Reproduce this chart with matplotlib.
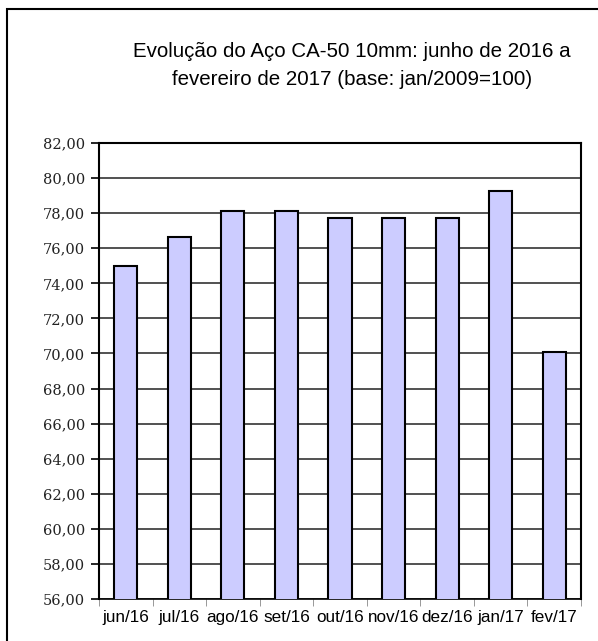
import numpy as np
import matplotlib.pyplot as plt
from matplotlib.patches import Rectangle

meses = ['jun/16', 'jul/16', 'ago/16', 'set/16', 'out/16', 'nov/16', 'dez/16', 'jan/17', 'fev/17']
valores = [75.00, 76.63, 78.12, 78.12, 77.74, 77.74, 77.74, 79.29, 70.08]
titulo = 'Evolução do Aço CA-50 10mm: junho de 2016 a\nfevereiro de 2017 (base: jan/2009=100)'

W, H = 598, 641
fig = plt.figure(figsize=(W / 100, H / 100), dpi=100)
# moldura externa
fig.patches.append(Rectangle((7 / W, -0.1), 1.2, (H - 9) / H + 0.1, transform=fig.transFigure,
                             fill=False, edgecolor='black', lw=1.5))

ax = fig.add_axes([99 / W, 1 - 599 / H, (581 - 99) / W, (599 - 143) / H])
x = np.arange(len(meses))
ax.bar(x, valores, width=0.43, color='#CCCCFF', edgecolor='black', lw=1.5, zorder=3)

ax.set_ylim(56, 82)
ax.set_xlim(-0.5, len(meses) - 0.5)
ax.set_yticks(np.arange(56, 82.1, 2))
ax.set_yticklabels([f'{v:.2f}'.replace('.', ',') for v in np.arange(56, 82.1, 2)],
                   family='DejaVu Serif', fontsize=10.5, color='#222222')
ax.set_xticks(x)
ax.set_xticklabels(meses, family='Liberation Sans', fontsize=12.3)
ax.set_xticks(np.arange(-0.5, len(meses)), minor=True)
ax.tick_params(axis='x', which='major', length=0, pad=8)
ax.tick_params(axis='x', which='minor', length=5, color='#888888')
ax.tick_params(axis='y', length=6, width=1.2, pad=4)
ax.grid(axis='y', color='#333333', lw=1.2, zorder=0)
for s in ax.spines.values():
    s.set_linewidth(1.5)
ax.spines['bottom'].set_linewidth(1.2)

fig.text(352 / W, 1 - 65.5 / H, titulo, ha='center', va='center', fontsize=14.8,
         family='Liberation Sans', linespacing=1.65)

fig.savefig('out.png', dpi=100)
